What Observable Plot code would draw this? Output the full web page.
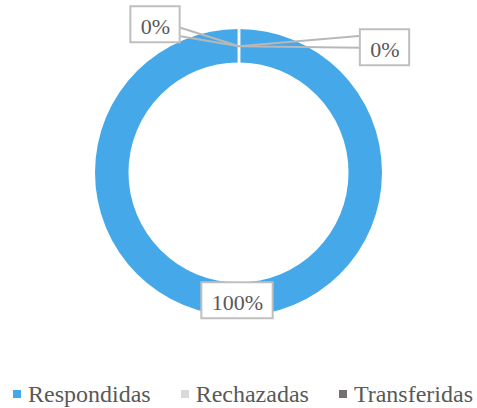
<!DOCTYPE html>
<html><head><meta charset="utf-8">
<script src="https://cdn.jsdelivr.net/npm/d3@7"></script>
<script src="https://cdn.jsdelivr.net/npm/@observablehq/plot@0.6"></script>
<style>
body{margin:0;background:#fff;}
#chart{width:477px;height:408px;overflow:hidden;background:#fff;}
#chart svg{display:block;}
.lg-swatches{justify-content:center !important;margin:0 !important;min-height:28px !important;height:28px;font-family:"Liberation Serif",serif !important;font-size:24px !important;color:#595959 !important;padding-left:9px;box-sizing:border-box;}
.lg-swatch{margin-right:30px !important;}
.lg-swatch:last-child{margin-right:0 !important;}
.lg-swatch > svg{margin-right:7px !important;}
</style></head><body><div id="chart"></div>
<script>
// ---- data ----
const categories = ["Respondidas", "Rechazadas", "Transferidas"];
const values = [100, 0, 0];
const percentLabels = ["100%", "0%", "0%"];
const colors = ["#45A8E8", "#D9D9D9", "#767171"];

// ---- layout ----
const W = 477, H = 380, cx = 238.5, cy = 172.5, R = 143.5, holeRatio = 110 / 143.5;
const labelOffsets = [[-1.5, 1], [-83.5, -21.5], [146, 1.5]]; // px, box centre relative to anchor
const leaderAttach = [[], [[25, 3], [25, 11.5]], [[-23.5, -12], [-23.5, 0]]]; // px, relative to box centre
const boxPadX = 10, boxH = 36;

const colorOpts = {type: "ordinal", domain: categories, range: colors};
const colorScale = Plot.scale({color: colorOpts});

const ctx = document.createElement("canvas").getContext("2d");
ctx.font = '22px "Liberation Serif"';

const pie = d3.pie().sort(null).value(d => d)(values);
const rm = (1 + holeRatio) / 2;
const slices = categories.map((c, i) => {
  const a0 = pie[i].startAngle, a1 = pie[i].endAngle, mid = (a0 + a1) / 2;
  const ax = rm * Math.sin(mid), ay = rm * Math.cos(mid);
  const lx = ax + labelOffsets[i][0] / R, ly = ay - labelOffsets[i][1] / R;
  const bw = ctx.measureText(percentLabels[i]).width + 2 * boxPadX;
  return {category: c, value: values[i], label: percentLabels[i], a0, a1, mid, ax, ay, lx, ly,
    bx1: lx - bw / 2 / R, bx2: lx + bw / 2 / R, by1: ly - boxH / 2 / R, by2: ly + boxH / 2 / R};
});
const leaders = slices.flatMap((s, i) => leaderAttach[i].map(([ox, oy]) => ({
  x1: s.ax, y1: s.ay, x2: s.lx + ox / R, y2: s.ly - oy / R
})));
const separators = Array.from(new Set(slices.map(s => s.a0 % (2 * Math.PI)))).map(a => ({
  x1: holeRatio * 0.97 * Math.sin(a), y1: holeRatio * 0.97 * Math.cos(a),
  x2: 1.03 * Math.sin(a), y2: 1.03 * Math.cos(a)
}));

function donut(index, scales) {
  const X = (scales && scales.x) || d3.scaleLinear([-1, 1], [cx - R, cx + R]);
  const Y = (scales && scales.y) || d3.scaleLinear([-1, 1], [cy + R, cy - R]);
  const ox = X(0), oy = Y(0), rOut = X(1) - X(0);
  const arc = d3.arc().outerRadius(rOut).innerRadius(rOut * holeRatio);
  const g = d3.create("svg:g").attr("transform", `translate(${ox},${oy})`);
  g.selectAll("path").data(slices.filter(d => d.value > 0)).join("path")
    .attr("d", d => arc({startAngle: d.a0, endAngle: d.a1}))
    .attr("fill", d => colorScale.apply(d.category));
  return g.node();
}

const plot = Plot.plot({
  width: W, height: H, margin: 0,
  x: {domain: [-1, 1], range: [cx - R, cx + R], axis: null},
  y: {domain: [-1, 1], range: [cy + R, cy - R], axis: null},
  style: {background: "white", fontFamily: '"Liberation Serif", serif'},
  marks: [
    donut,
    Plot.link(separators, {x1: "x1", y1: "y1", x2: "x2", y2: "y2", stroke: "white", strokeWidth: 2.5}),
    Plot.link(leaders, {x1: "x1", y1: "y1", x2: "x2", y2: "y2", stroke: "#B8B8B8", strokeWidth: 2}),
    Plot.rect(slices, {x1: "bx1", x2: "bx2", y1: "by1", y2: "by2", fill: "white", stroke: "#BFBFBF", strokeWidth: 2}),
    Plot.text(slices, {x: "lx", y: "ly", text: "label", fill: "#595959", fontSize: 22,
      fontFamily: '"Liberation Serif", serif', textAnchor: "middle", lineAnchor: "middle", dy: 2.5})
  ]
});

const legend = Plot.legend({color: colorOpts, legend: "swatches", swatchSize: 8, className: "lg"});

const chart = document.getElementById("chart");
chart.appendChild(plot);
chart.appendChild(legend);
</script>
</body></html>
